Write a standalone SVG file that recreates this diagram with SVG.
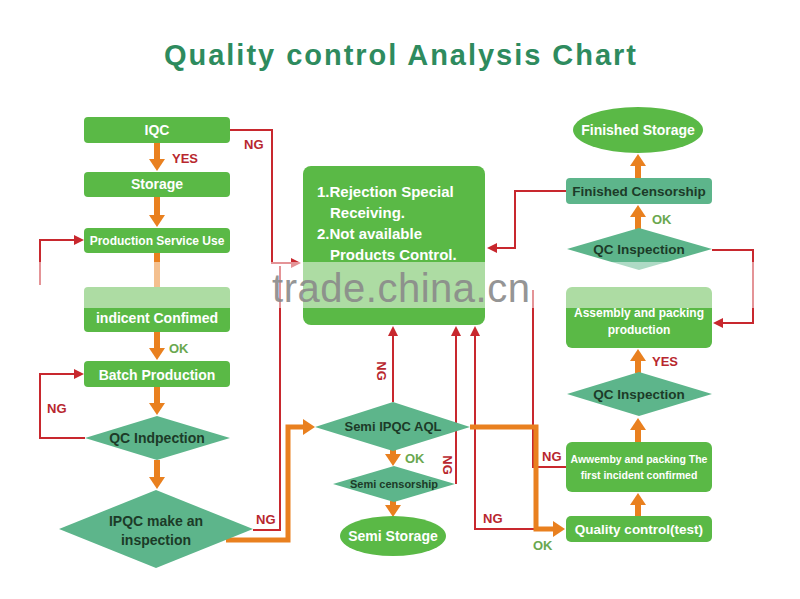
<svg xmlns="http://www.w3.org/2000/svg" width="800" height="599" viewBox="0 0 800 599">
<style>
.g{fill:#5ab946}
.t{fill:#5db58b}
.wt{fill:#fff;font-family:"Liberation Sans",Arial,sans-serif;font-weight:bold;text-anchor:middle}
.dt{fill:#1c3b28;font-family:"Liberation Sans",Arial,sans-serif;font-weight:bold;text-anchor:middle}
.red{fill:none;stroke:#c8282e;stroke-width:2}
.or{fill:none;stroke:#e9801f;stroke-width:6}
.orw{fill:none;stroke:#e9801f;stroke-width:5}
.lr{fill:#b8272e;font-family:"Liberation Sans",Arial,sans-serif;font-weight:bold;font-size:13px}
.lg{fill:#6aa84f;font-family:"Liberation Sans",Arial,sans-serif;font-weight:bold;font-size:13px}
</style>
<defs>
<marker id="ao" viewBox="0 0 12 16" refX="0" refY="8" markerWidth="12" markerHeight="16" markerUnits="userSpaceOnUse" orient="auto"><path d="M0,0 L12,8 L0,16 z" fill="#e9801f"/></marker>
<marker id="ar" viewBox="0 0 10 10" refX="0" refY="5" markerWidth="10" markerHeight="10" markerUnits="userSpaceOnUse" orient="auto"><path d="M0,0 L10,5 L0,10 z" fill="#c8282e"/></marker>
</defs>
<rect width="800" height="599" fill="#fff"/>
<text x="400" y="65" text-anchor="middle" textLength="472" font-family="'Liberation Sans',Arial,sans-serif" font-weight="bold" font-size="29" fill="#2e8b5e">Quality control Analysis Chart</text>

<g id="connectors">
<path class="red" d="M230,130 H272 V263 H291" marker-end="url(#ar)"/>
<path class="red" d="M253,530 H280 V266"/>
<path class="red" d="M40,285 V240 H74" marker-end="url(#ar)"/>
<path class="red" d="M85,438 H40 V374 H74" marker-end="url(#ar)"/>
<path class="red" d="M393,402 V336" marker-end="url(#ar)"/>
<path class="red" d="M455,483 H456 V336" marker-end="url(#ar)"/>
<path class="red" d="M536,529 H475 V336" marker-end="url(#ar)"/>
<path class="red" d="M566,467 H533 V290"/>
<path class="red" d="M566,191 H515 V248 H497" marker-end="url(#ar)"/>
<path class="red" d="M712,250 H753 V323 H723" marker-end="url(#ar)"/>
<path class="or" d="M157,143 V159" marker-end="url(#ao)"/>
<path class="or" d="M157,197 V215" marker-end="url(#ao)"/>
<path class="or" d="M157,253 V287"/>
<path class="or" d="M157,332 V348" marker-end="url(#ao)"/>
<path class="or" d="M157,387 V403" marker-end="url(#ao)"/>
<path class="or" d="M157,460 V477" marker-end="url(#ao)"/>
<path class="or" d="M393,449 V454" marker-end="url(#ao)"/>
<path class="or" d="M393,501 V505" marker-end="url(#ao)"/>
<path class="or" d="M638,178 V166" marker-end="url(#ao)"/>
<path class="or" d="M638,229 V217" marker-end="url(#ao)"/>
<path class="or" d="M638,373 V361" marker-end="url(#ao)"/>
<path class="or" d="M638,442 V430" marker-end="url(#ao)"/>
<path class="or" d="M638,516 V505" marker-end="url(#ao)"/>
<path class="orw" d="M226,540 H288 V427 H303" marker-end="url(#ao)"/>
<path class="orw" d="M470,427 H536 V529 H553" marker-end="url(#ao)"/>
<text class="lr" x="172" y="163">YES</text>
<text class="lr" x="244" y="149">NG</text>
<text class="lg" x="169" y="353">OK</text>
<text class="lr" x="47" y="413">NG</text>
<text class="lr" x="256" y="524">NG</text>
<text class="lr" x="381" y="371" text-anchor="middle" dominant-baseline="central" transform="rotate(90 381 371)">NG</text>
<text class="lg" x="405" y="463">OK</text>
<text class="lr" x="447" y="465" text-anchor="middle" dominant-baseline="central" transform="rotate(90 447 465)">NG</text>
<text class="lr" x="483" y="523">NG</text>
<text class="lg" x="533" y="550">OK</text>
<text class="lr" x="542" y="461">NG</text>
<text class="lg" x="652" y="224">OK</text>
<text class="lr" x="652" y="366">YES</text>
</g>

<g id="iqc"><rect class="g" x="84" y="117" width="146" height="26" rx="4"/><text class="wt" x="157" y="135" font-size="14">IQC</text></g>
<g id="storage"><rect class="g" x="84" y="172" width="146" height="25" rx="4"/><text class="wt" x="157" y="189" font-size="14">Storage</text></g>
<g id="production-service-use"><rect class="g" x="84" y="228" width="146" height="25" rx="4"/><text class="wt" x="157" y="245" font-size="12">Production Service Use</text></g>
<g id="indicent-confimed"><rect class="g" x="84" y="287" width="146" height="45" rx="4"/><text class="wt" x="157" y="323" font-size="14">indicent Confimed</text></g>
<g id="batch-production"><rect class="g" x="84" y="361" width="146" height="26" rx="4"/><text class="wt" x="157" y="380" font-size="14">Batch Production</text></g>
<g id="qc-indpection"><polygon class="t" points="85,438 157,416 230,438 157,460"/><text class="dt" x="157" y="443" font-size="14">QC Indpection</text></g>
<g id="ipqc-inspection"><polygon class="t" points="59,529 156,490 253,529 156,568"/><text class="dt" x="156" y="526" font-size="14">IPQC make an</text><text class="dt" x="156" y="545" font-size="14">inspection</text></g>

<g id="rejection-box"><rect class="g" x="303" y="166" width="182" height="159" rx="8"/>
<text class="wt" style="text-anchor:start" font-size="15"><tspan x="317" y="197">1.Rejection Special</tspan><tspan x="330" y="218">Receiving.</tspan><tspan x="317" y="239">2.Not available</tspan><tspan x="330" y="260">Products Control.</tspan></text></g>
<g id="semi-ipqc-aql"><polygon class="t" points="315,427 393,402 470,427 393,451"/><text class="dt" x="393" y="431" font-size="13">Semi IPQC AQL</text></g>
<g id="semi-censorship"><polygon class="t" points="333,484 394,466 455,484 394,502"/><text class="dt" x="394" y="488" font-size="11">Semi censorship</text></g>
<g id="semi-storage"><ellipse class="g" cx="393" cy="536" rx="53" ry="20"/><text class="wt" x="393" y="541" font-size="14">Semi Storage</text></g>

<g id="finished-storage"><ellipse class="g" cx="638" cy="130" rx="65" ry="23"/><text class="wt" x="638" y="135" font-size="14">Finished Storage</text></g>
<g id="finished-censorship"><rect class="t" x="566" y="178" width="146" height="26" rx="4"/><text class="dt" x="639" y="196" font-size="13.5">Finished Censorship</text></g>
<g id="qc-inspection-top"><polygon class="t" points="567,249 639,228 712,249 639,270"/><text class="dt" x="639" y="254" font-size="13.5">QC Inspection</text></g>
<g id="assembly-packing"><rect class="g" x="566" y="287" width="146" height="61" rx="6"/><text class="wt" x="639" y="317" font-size="12">Assembly and packing</text><text class="wt" x="639" y="334" font-size="12">production</text></g>
<g id="qc-inspection-bottom"><polygon class="t" points="567,394 639,372 712,394 639,416"/><text class="dt" x="639" y="399" font-size="13.5">QC Inspection</text></g>
<g id="first-incident"><rect class="g" x="566" y="442" width="146" height="50" rx="6"/><text class="wt" x="639" y="463" font-size="10.5">Awwemby and packing The</text><text class="wt" x="639" y="479" font-size="10.5">first incident confirmed</text></g>
<g id="quality-control-test"><rect class="g" x="566" y="516" width="146" height="26" rx="5"/><text class="wt" x="639" y="534" font-size="13.5">Quality control(test)</text></g>

<rect x="0" y="262" width="800" height="46" fill="#fff" opacity="0.5"/>
<text x="401" y="302" text-anchor="middle" textLength="258" font-family="'Liberation Sans',Arial,sans-serif" font-size="40" fill="#8a8a8a" opacity="0.9">trade.china.cn</text>
</svg>
